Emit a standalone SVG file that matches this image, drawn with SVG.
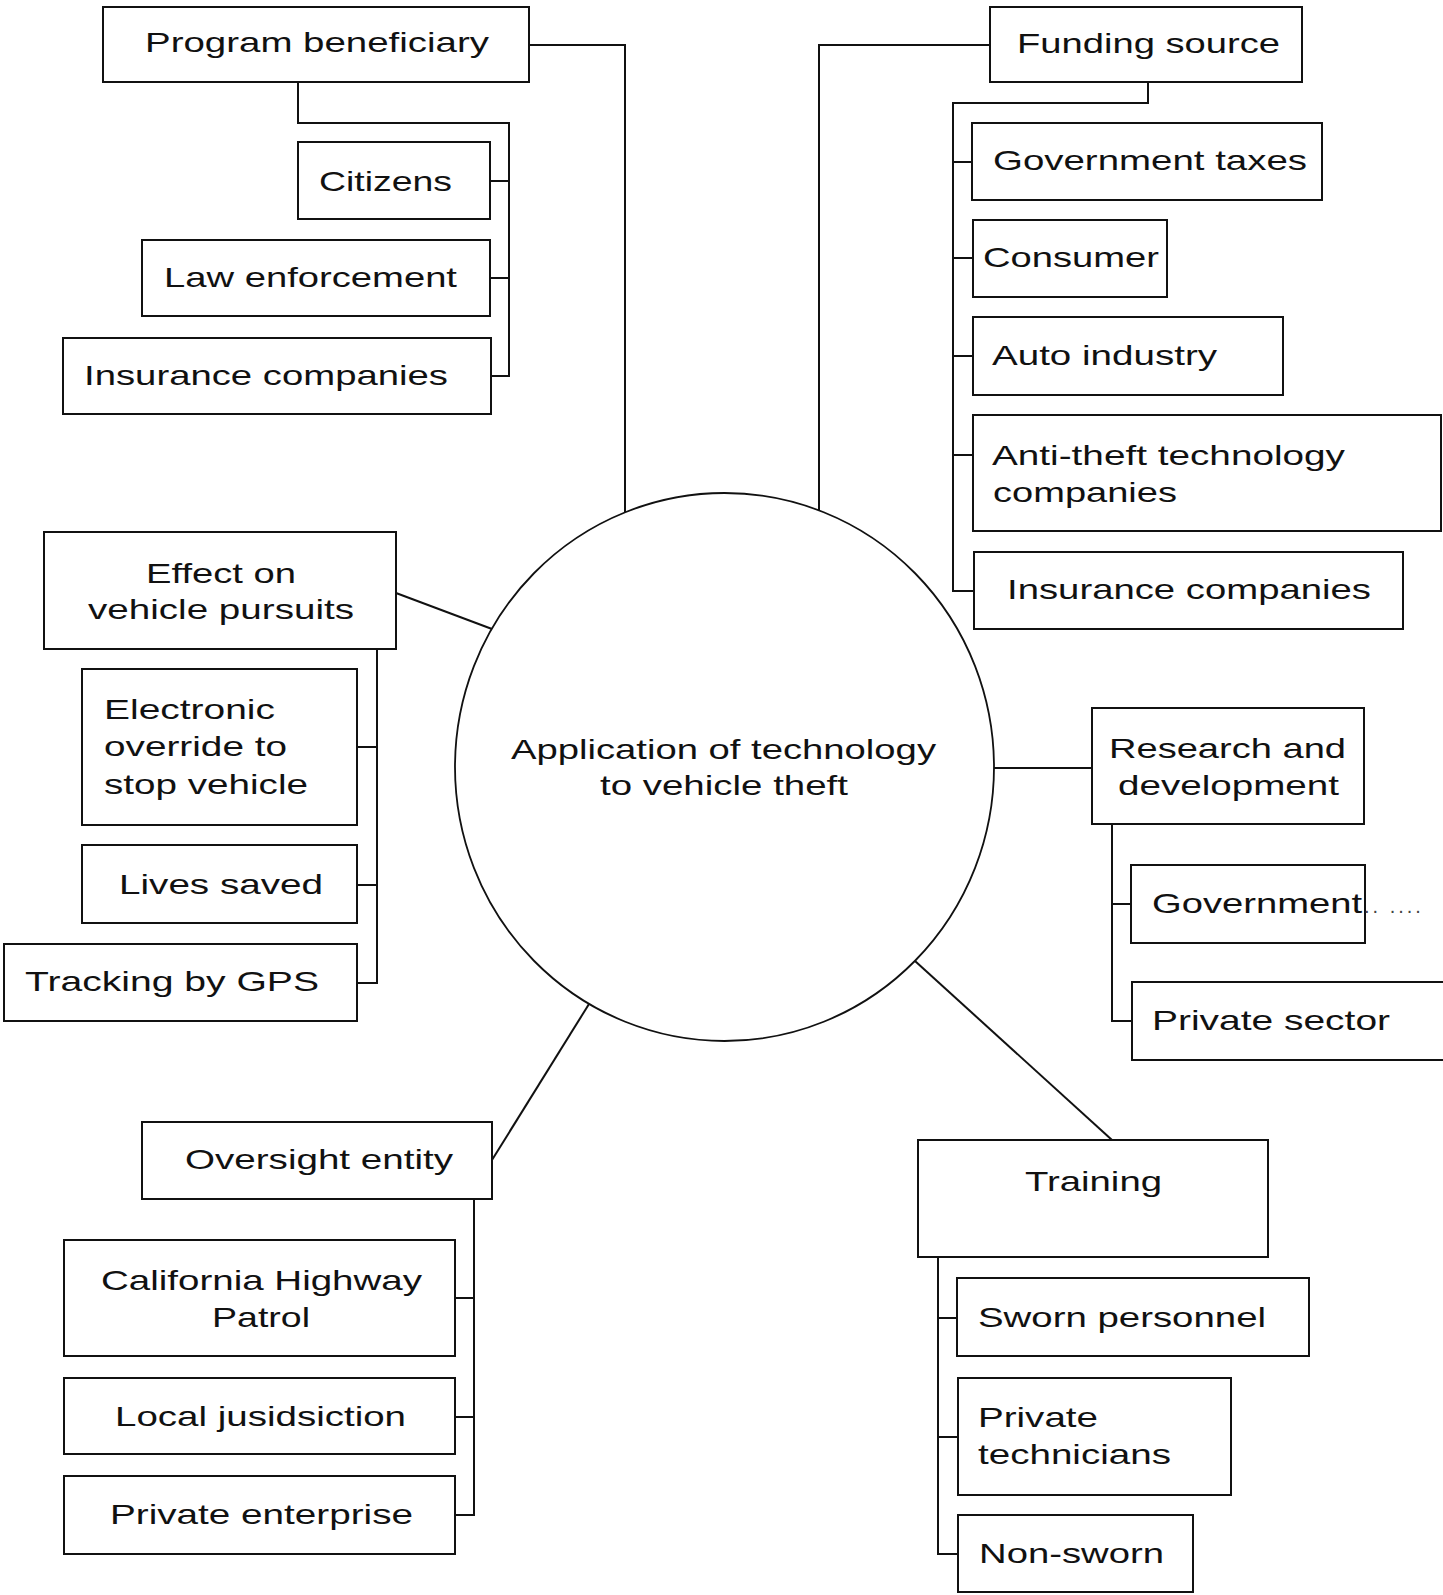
<svg xmlns="http://www.w3.org/2000/svg" width="1443" height="1595" viewBox="0 0 1443 1595">
<style>
.box{fill:#fff;stroke:#111;stroke-width:2}
.conn{fill:none;stroke:#111;stroke-width:2}
.hub{fill:#fff;stroke:#111;stroke-width:1.8}
text{font-family:"Liberation Sans",Arial,sans-serif;font-size:28px;fill:#111}
.faint{font-size:20px;fill:#444;letter-spacing:3px}
</style>
<rect width="1443" height="1595" fill="#fff"/>
<g id="connectors">
<path class="conn" d="M529,45 H625 V512"/>
<path class="conn" d="M298,83 V123 H509 V376 H491 M490,181 H509 M490,278 H509"/>
<path class="conn" d="M990,45 H819 V510"/>
<path class="conn" d="M1148,82 V103 H953 V591 H974 M953,162 H972 M953,258 H973 M953,356 H973 M953,455 H973"/>
<path class="conn" d="M396,593 L492,629"/>
<path class="conn" d="M377,649 V983 H357 M357,747 H377 M357,885 H377"/>
<path class="conn" d="M994,768 H1092"/>
<path class="conn" d="M1112,824 V1021 H1132 M1112,904 H1131"/>
<path class="conn" d="M915,961 L1112,1140"/>
<path class="conn" d="M938,1257 V1554 H958 M938,1318 H957 M938,1437 H958"/>
<path class="conn" d="M589,1004 L492,1160"/>
<path class="conn" d="M474,1199 V1515 H455 M455,1298 H474 M455,1417 H474"/>
</g>
<g id="hub">
<ellipse class="hub" cx="724.5" cy="767" rx="269.5" ry="274"/>
<text x="511" y="759" textLength="425" lengthAdjust="spacingAndGlyphs">Application of technology</text>
<text x="600" y="795" textLength="248" lengthAdjust="spacingAndGlyphs">to vehicle theft</text>
</g>
<g id="program-beneficiary">
<rect class="box" x="103" y="7" width="426" height="75"/>
<text x="145" y="52" textLength="344" lengthAdjust="spacingAndGlyphs">Program beneficiary</text>
</g>
<g id="citizens">
<rect class="box" x="298" y="142" width="192" height="77"/>
<text x="319" y="191" textLength="133" lengthAdjust="spacingAndGlyphs">Citizens</text>
</g>
<g id="law-enforcement">
<rect class="box" x="142" y="240" width="348" height="76"/>
<text x="164" y="287" textLength="293" lengthAdjust="spacingAndGlyphs">Law enforcement</text>
</g>
<g id="insurance-left">
<rect class="box" x="63" y="338" width="428" height="76"/>
<text x="84" y="385" textLength="364" lengthAdjust="spacingAndGlyphs">Insurance companies</text>
</g>
<g id="funding-source">
<rect class="box" x="990" y="7" width="312" height="75"/>
<text x="1017" y="53" textLength="263" lengthAdjust="spacingAndGlyphs">Funding source</text>
</g>
<g id="government-taxes">
<rect class="box" x="972" y="123" width="350" height="77"/>
<text x="993" y="170" textLength="314" lengthAdjust="spacingAndGlyphs">Government taxes</text>
</g>
<g id="consumer">
<rect class="box" x="973" y="220" width="194" height="77"/>
<text x="983" y="267" textLength="176" lengthAdjust="spacingAndGlyphs">Consumer</text>
</g>
<g id="auto-industry">
<rect class="box" x="973" y="317" width="310" height="78"/>
<text x="992" y="365" textLength="225" lengthAdjust="spacingAndGlyphs">Auto industry</text>
</g>
<g id="anti-theft">
<rect class="box" x="973" y="415" width="468" height="116"/>
<text x="992" y="465" textLength="353" lengthAdjust="spacingAndGlyphs">Anti-theft technology</text>
<text x="993" y="502" textLength="184" lengthAdjust="spacingAndGlyphs">companies</text>
</g>
<g id="insurance-right">
<rect class="box" x="974" y="552" width="429" height="77"/>
<text x="1007" y="599" textLength="364" lengthAdjust="spacingAndGlyphs">Insurance companies</text>
</g>
<g id="effect-pursuits">
<rect class="box" x="44" y="532" width="352" height="117"/>
<text x="146" y="583" textLength="150" lengthAdjust="spacingAndGlyphs">Effect on</text>
<text x="88" y="619" textLength="266" lengthAdjust="spacingAndGlyphs">vehicle pursuits</text>
</g>
<g id="electronic-override">
<rect class="box" x="82" y="669" width="275" height="156"/>
<text x="104" y="719" textLength="171" lengthAdjust="spacingAndGlyphs">Electronic</text>
<text x="104" y="756" textLength="183" lengthAdjust="spacingAndGlyphs">override to</text>
<text x="104" y="794" textLength="204" lengthAdjust="spacingAndGlyphs">stop vehicle</text>
</g>
<g id="lives-saved">
<rect class="box" x="82" y="845" width="275" height="78"/>
<text x="119" y="894" textLength="204" lengthAdjust="spacingAndGlyphs">Lives saved</text>
</g>
<g id="tracking-gps">
<rect class="box" x="4" y="944" width="353" height="77"/>
<text x="25" y="991" textLength="294" lengthAdjust="spacingAndGlyphs">Tracking by GPS</text>
</g>
<g id="research-development">
<rect class="box" x="1092" y="708" width="272" height="116"/>
<text x="1109" y="758" textLength="237" lengthAdjust="spacingAndGlyphs">Research and</text>
<text x="1118" y="795" textLength="221" lengthAdjust="spacingAndGlyphs">development</text>
</g>
<g id="government">
<rect class="box" x="1131" y="865" width="234" height="78"/>
<text x="1152" y="913" textLength="210" lengthAdjust="spacingAndGlyphs">Government</text>
<text class="faint" x="1364" y="913">..    ....</text>
</g>
<g id="private-sector">
<rect class="box" x="1132" y="982" width="318" height="78"/>
<text x="1152" y="1030" textLength="238" lengthAdjust="spacingAndGlyphs">Private sector</text>
</g>
<g id="training">
<rect class="box" x="918" y="1140" width="350" height="117"/>
<text x="1025" y="1191" textLength="137" lengthAdjust="spacingAndGlyphs">Training</text>
</g>
<g id="sworn-personnel">
<rect class="box" x="957" y="1278" width="352" height="78"/>
<text x="978" y="1327" textLength="288" lengthAdjust="spacingAndGlyphs">Sworn personnel</text>
</g>
<g id="private-technicians">
<rect class="box" x="958" y="1378" width="273" height="117"/>
<text x="978" y="1427" textLength="120" lengthAdjust="spacingAndGlyphs">Private</text>
<text x="978" y="1464" textLength="193" lengthAdjust="spacingAndGlyphs">technicians</text>
</g>
<g id="non-sworn">
<rect class="box" x="958" y="1515" width="235" height="77"/>
<text x="979" y="1563" textLength="185" lengthAdjust="spacingAndGlyphs">Non-sworn</text>
</g>
<g id="oversight-entity">
<rect class="box" x="142" y="1122" width="350" height="77"/>
<text x="185" y="1169" textLength="268" lengthAdjust="spacingAndGlyphs">Oversight entity</text>
</g>
<g id="california-highway-patrol">
<rect class="box" x="64" y="1240" width="391" height="116"/>
<text x="101" y="1290" textLength="321" lengthAdjust="spacingAndGlyphs">California Highway</text>
<text x="212" y="1327" textLength="98" lengthAdjust="spacingAndGlyphs">Patrol</text>
</g>
<g id="local-jurisdiction">
<rect class="box" x="64" y="1378" width="391" height="76"/>
<text x="115" y="1426" textLength="291" lengthAdjust="spacingAndGlyphs">Local jusidsiction</text>
</g>
<g id="private-enterprise">
<rect class="box" x="64" y="1476" width="391" height="78"/>
<text x="110" y="1524" textLength="303" lengthAdjust="spacingAndGlyphs">Private enterprise</text>
</g>
</svg>
